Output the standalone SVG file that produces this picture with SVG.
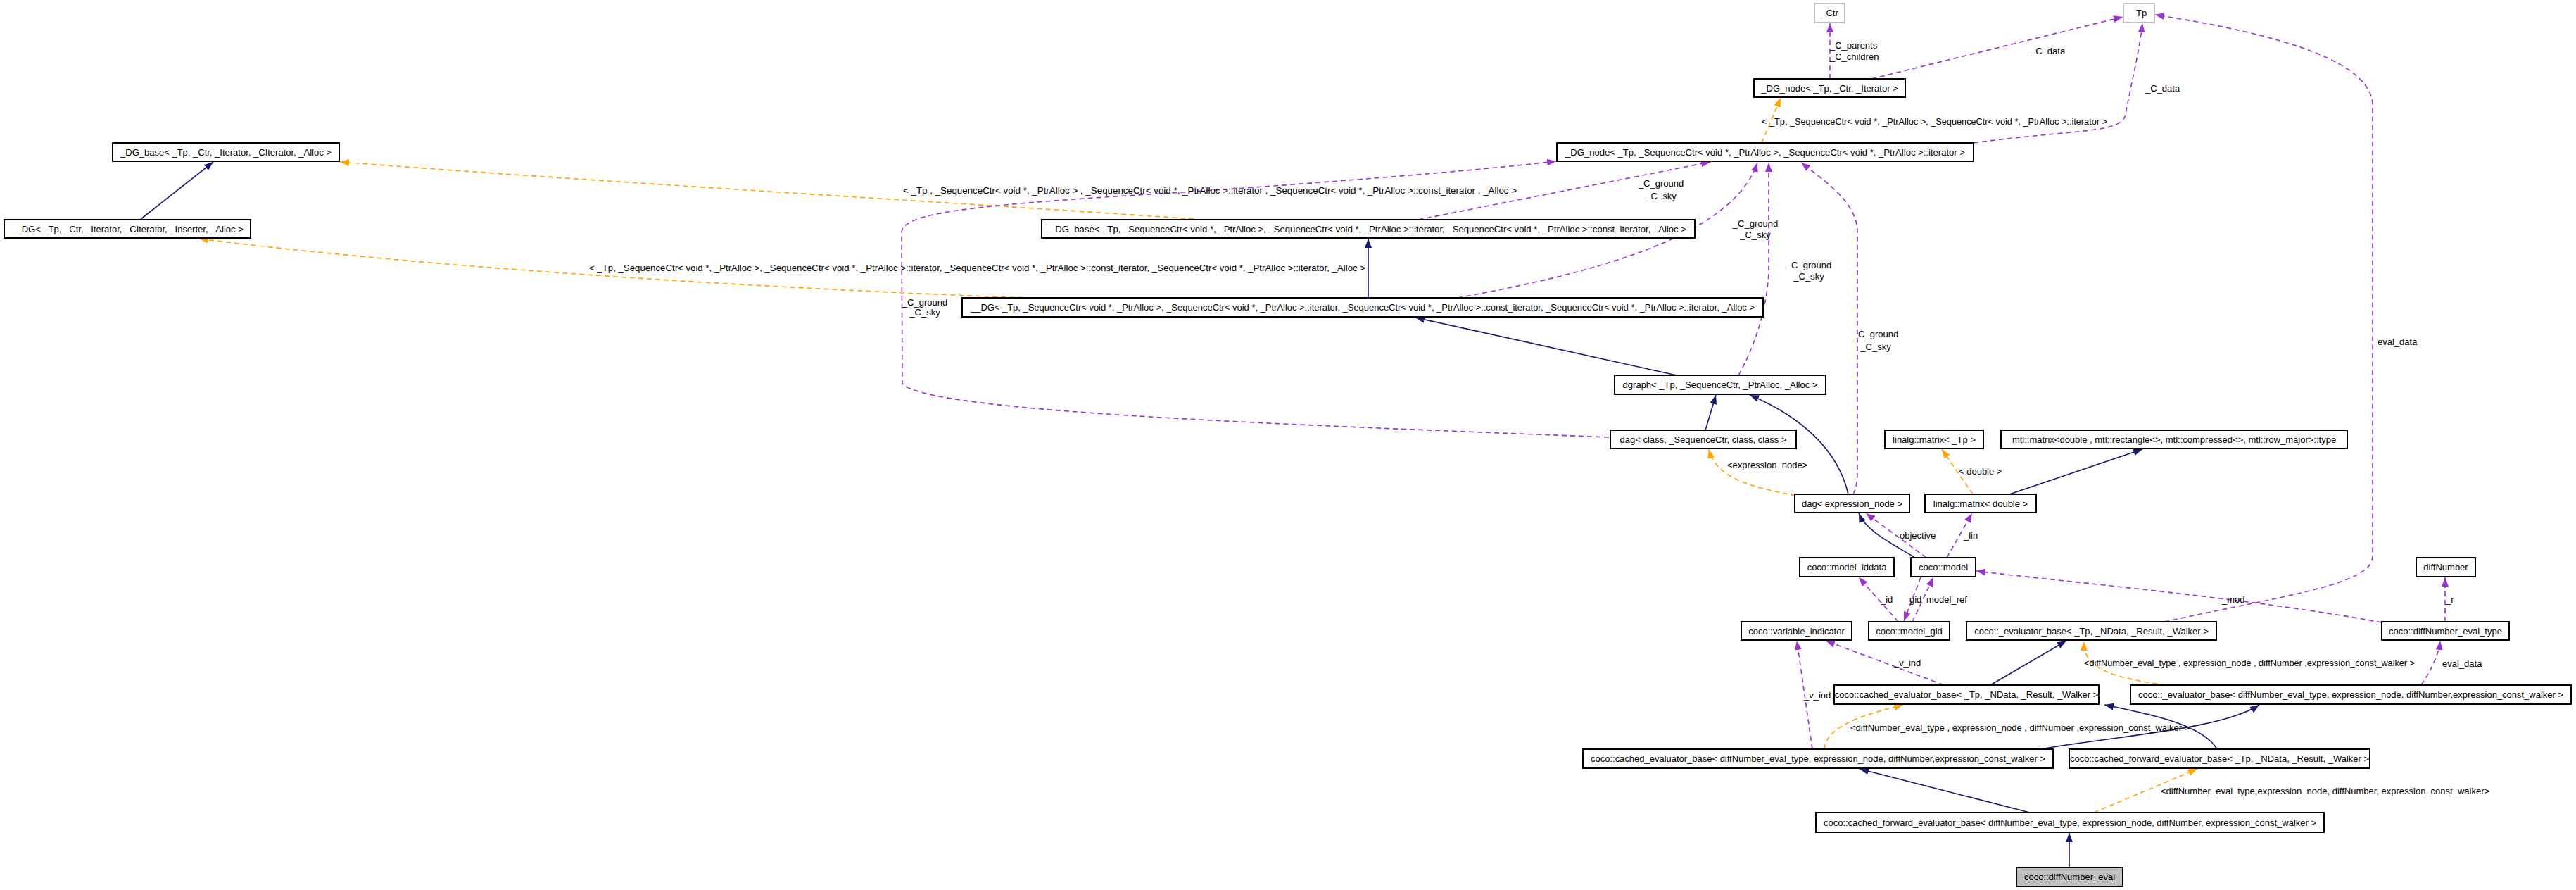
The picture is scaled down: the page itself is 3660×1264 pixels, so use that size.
<svg xmlns="http://www.w3.org/2000/svg" width="3660" height="1264" viewBox="0 0 3660 1264">
<style>
.t{font-family:"Liberation Sans",Arial,Helvetica,sans-serif;font-size:13px;fill:#000}
.c{text-anchor:middle}
.box{fill:#fff;stroke:#000;stroke-width:2}
.gbox{fill:#fff;stroke:#bfbfbf;stroke-width:2}
.sel{fill:#bfbfbf;stroke:#000;stroke-width:2}
.inh{fill:none;stroke:#191970;stroke-width:1.6;marker-end:url(#an)}
.use{fill:none;stroke:#9a32cd;stroke-width:1.6;stroke-dasharray:7,5;marker-end:url(#ap)}
.tpl{fill:none;stroke:#ffa500;stroke-width:1.6;stroke-dasharray:7,5;marker-end:url(#ao)}
</style>
<defs>
<marker id="an" markerUnits="userSpaceOnUse" markerWidth="14" markerHeight="10" refX="13" refY="5" orient="auto"><path d="M0,0 L13,5 L0,10 z" fill="#191970"/></marker>
<marker id="ap" markerUnits="userSpaceOnUse" markerWidth="14" markerHeight="10" refX="13" refY="5" orient="auto"><path d="M0,0 L13,5 L0,10 z" fill="#9a32cd"/></marker>
<marker id="ao" markerUnits="userSpaceOnUse" markerWidth="14" markerHeight="10" refX="13" refY="5" orient="auto"><path d="M0,0 L13,5 L0,10 z" fill="#ffa500"/></marker>
</defs>
<rect width="3660" height="1264" fill="#fff"/>
<g id="connectors">
<path class="inh" d="M199,312 L303,230"/>
<path class="inh" d="M1944,423 L1944,339"/>
<path class="inh" d="M2382,533 L2011,451"/>
<path class="inh" d="M2423,611 L2438,561"/>
<path class="inh" d="M2626,702 C2612,640 2560,592 2486,561"/>
<path class="inh" d="M2855,702 L3044,638"/>
<path class="inh" d="M2721,792 C2688,772 2652,755 2641,729"/>
<path class="inh" d="M2828,973 L2936,910"/>
<path class="inh" d="M2898,1064 C3010,1045 3160,1035 3210,1001"/>
<path class="inh" d="M3150,1064 C3130,1030 3060,1015 2990,1001"/>
<path class="inh" d="M2884,1154 L2642,1092"/>
<path class="inh" d="M2940,1232 L2940,1183"/>
<path class="tpl" d="M2503,203 L2530,139"/>
<path class="tpl" d="M1708,312 C1400,290 900,262 483,230"/>
<path class="tpl" d="M1465,423 C1300,418 700,392 283,339"/>
<path class="tpl" d="M2552,704 C2490,692 2438,680 2428,638"/>
<path class="tpl" d="M2803,702 L2759,638"/>
<path class="tpl" d="M3077,973 C3000,962 2960,950 2961,911"/>
<path class="tpl" d="M2592,1064 C2595,1030 2650,1015 2704,1001"/>
<path class="tpl" d="M2975,1154 L3122,1092"/>
<path class="use" d="M2600,112 L2600,33"/>
<path class="use" d="M2659,112 L3016,24"/>
<path class="use" d="M2804,203 C2950,183 3016,190 3020,162 C3030,110 3040,70 3044,33"/>
<path class="use" d="M2286,621 C1800,602 1320,585 1282,545 L1281,330 C1282,300 1400,290 1696,272 C1900,258 2100,242 2211,229"/>
<path class="use" d="M2015,312 L2430,230"/>
<path class="use" d="M2071,423 C2250,390 2460,340 2497,231"/>
<path class="use" d="M2633,702 C2639,690 2639,680 2639,660 L2639,330 C2639,290 2600,262 2559,231"/>
<path class="use" d="M2470,533 C2500,480 2513,420 2513,380 L2513,231"/>
<path class="use" d="M2737,792 L2651,729"/>
<path class="use" d="M2766,792 L2802,729"/>
<path class="use" d="M2697,883 L2641,820"/>
<path class="use" d="M2729,820 L2705,882"/>
<path class="use" d="M2717,883 L2747,820"/>
<path class="use" d="M3384,884 C3200,850 2950,828 2808,811"/>
<path class="use" d="M3075,883 C3250,845 3371,830 3371,790 L3371,150 C3371,90 3250,50 3062,21"/>
<path class="use" d="M3474,883 L3474,820"/>
<path class="use" d="M2762,973 L2594,910"/>
<path class="use" d="M2575,1064 L2553,910"/>
<path class="use" d="M3440,973 C3455,950 3465,930 3467,910"/>
<text class="t" x="2600" y="68.5">_C_parents</text>
<text class="t" x="2600" y="84.5">_C_children</text>
<text class="t" x="2885" y="76.5">_C_data</text>
<text class="t" x="3048" y="129.5">_C_data</text>
<text class="t" x="2503" y="176.5" textLength="491" lengthAdjust="spacingAndGlyphs">&lt; _Tp, _SequenceCtr&lt; void *, _PtrAlloc &gt;, _SequenceCtr&lt; void *, _PtrAlloc &gt;::iterator &gt;</text>
<text class="t" x="1283" y="274.5" textLength="872" lengthAdjust="spacingAndGlyphs">&lt; _Tp , _SequenceCtr&lt; void *, _PtrAlloc &gt; , _SequenceCtr&lt; void *, _PtrAlloc &gt;::iterator , _SequenceCtr&lt; void *, _PtrAlloc &gt;::const_iterator , _Alloc &gt;</text>
<text class="t c" x="2360" y="265">_C_ground</text>
<text class="t c" x="2360" y="282.5">_C_sky</text>
<text class="t c" x="2494" y="321.5">_C_ground</text>
<text class="t c" x="2494" y="337.5">_C_sky</text>
<text class="t" x="837" y="385" textLength="1103" lengthAdjust="spacingAndGlyphs">&lt; _Tp, _SequenceCtr&lt; void *, _PtrAlloc &gt;, _SequenceCtr&lt; void *, _PtrAlloc &gt;::iterator, _SequenceCtr&lt; void *, _PtrAlloc &gt;::const_iterator, _SequenceCtr&lt; void *, _PtrAlloc &gt;::iterator, _Alloc &gt;</text>
<text class="t c" x="1314" y="433.5">_C_ground</text>
<text class="t c" x="1314" y="447.5">_C_sky</text>
<text class="t c" x="2570" y="380.5">_C_ground</text>
<text class="t c" x="2570" y="396.5">_C_sky</text>
<text class="t c" x="2665" y="478.5">_C_ground</text>
<text class="t c" x="2665" y="496.5">_C_sky</text>
<text class="t" x="3378" y="490">eval_data</text>
<text class="t" x="2454" y="664.5">&lt;expression_node&gt;</text>
<text class="t" x="2783" y="673.5">&lt; double &gt;</text>
<text class="t" x="2699" y="764.5">objective</text>
<text class="t" x="2790" y="764.5">_lin</text>
<text class="t" x="2672" y="855.5">_id</text>
<text class="t" x="2713" y="855.5">gid</text>
<text class="t" x="2737" y="855.5">model_ref</text>
<text class="t" x="3157" y="855.5">_mod</text>
<text class="t" x="3475" y="855.5">_r</text>
<text class="t" x="2961" y="945.5" textLength="470" lengthAdjust="spacingAndGlyphs">&lt;diffNumber_eval_type , expression_node , diffNumber ,expression_const_walker &gt;</text>
<text class="t" x="3470" y="947">eval_data</text>
<text class="t" x="2691" y="945.5">_v_ind</text>
<text class="t" x="2563" y="991.5">_v_ind</text>
<text class="t" x="2629" y="1037.5">&lt;diffNumber_eval_type , expression_node , diffNumber ,expression_const_walker &gt;</text>
<text class="t" x="3070" y="1127.5">&lt;diffNumber_eval_type,expression_node, diffNumber, expression_const_walker&gt;</text>
</g>
<g id="n_ctr"><rect class="gbox" x="2578" y="5" width="43" height="27"/><text class="t c" x="2599.5" y="23">_Ctr</text></g>
<g id="n_tp"><rect class="gbox" x="3017" y="5" width="44" height="27"/><text class="t c" x="3039" y="23">_Tp</text></g>
<g id="n_dgnode_t"><rect class="box" x="2492" y="112" width="215" height="26"/><text class="t c" x="2599.5" y="129.5">_DG_node&lt; _Tp, _Ctr, _Iterator &gt;</text></g>
<g id="n_dgnode_l"><rect class="box" x="2212" y="203" width="592" height="26"/><text class="t c" x="2508" y="220.5" textLength="568" lengthAdjust="spacingAndGlyphs">_DG_node&lt; _Tp, _SequenceCtr&lt; void *, _PtrAlloc &gt;, _SequenceCtr&lt; void *, _PtrAlloc &gt;::iterator &gt;</text></g>
<g id="n_dgbase_t"><rect class="box" x="160" y="203" width="322" height="26"/><text class="t c" x="321" y="220.5">_DG_base&lt; _Tp, _Ctr, _Iterator, _CIterator, _Alloc &gt;</text></g>
<g id="n_dg_t"><rect class="box" x="6" y="312" width="350" height="26"/><text class="t c" x="181" y="329.5">__DG&lt; _Tp, _Ctr, _Iterator, _CIterator, _Inserter, _Alloc &gt;</text></g>
<g id="n_dgbase_l"><rect class="box" x="1480" y="312" width="928" height="26"/><text class="t c" x="1944" y="329.5" textLength="904" lengthAdjust="spacingAndGlyphs">_DG_base&lt; _Tp, _SequenceCtr&lt; void *, _PtrAlloc &gt;, _SequenceCtr&lt; void *, _PtrAlloc &gt;::iterator, _SequenceCtr&lt; void *, _PtrAlloc &gt;::const_iterator, _Alloc &gt;</text></g>
<g id="n_dg_l"><rect class="box" x="1367" y="423" width="1138" height="27"/><text class="t c" x="1936" y="441" textLength="1114" lengthAdjust="spacingAndGlyphs">__DG&lt; _Tp, _SequenceCtr&lt; void *, _PtrAlloc &gt;, _SequenceCtr&lt; void *, _PtrAlloc &gt;::iterator, _SequenceCtr&lt; void *, _PtrAlloc &gt;::const_iterator, _SequenceCtr&lt; void *, _PtrAlloc &gt;::iterator, _Alloc &gt;</text></g>
<g id="n_dgraph"><rect class="box" x="2294" y="533" width="300" height="27"/><text class="t c" x="2444" y="551">dgraph&lt; _Tp, _SequenceCtr, _PtrAlloc, _Alloc &gt;</text></g>
<g id="n_dagclass"><rect class="box" x="2288" y="611" width="264" height="26"/><text class="t c" x="2420" y="628.5">dag&lt; class, _SequenceCtr, class, class &gt;</text></g>
<g id="n_lintp"><rect class="box" x="2678" y="611" width="140" height="26"/><text class="t c" x="2748" y="628.5">linalg::matrix&lt; _Tp &gt;</text></g>
<g id="n_mtl"><rect class="box" x="2843" y="611" width="492" height="26"/><text class="t c" x="3089" y="628.5">mtl::matrix&lt;double , mtl::rectangle&lt;&gt;, mtl::compressed&lt;&gt;, mtl::row_major&gt;::type</text></g>
<g id="n_dagexpr"><rect class="box" x="2550" y="702" width="163" height="26"/><text class="t c" x="2631.5" y="719.5">dag&lt; expression_node &gt;</text></g>
<g id="n_lindouble"><rect class="box" x="2735" y="702" width="158" height="26"/><text class="t c" x="2814" y="719.5">linalg::matrix&lt; double &gt;</text></g>
<g id="n_iddata"><rect class="box" x="2557" y="792" width="134" height="27"/><text class="t c" x="2624" y="810">coco::model_iddata</text></g>
<g id="n_model"><rect class="box" x="2715" y="792" width="92" height="27"/><text class="t c" x="2761" y="810">coco::model</text></g>
<g id="n_diffnumber"><rect class="box" x="3433" y="792" width="84" height="27"/><text class="t c" x="3475" y="810">diffNumber</text></g>
<g id="n_varind"><rect class="box" x="2474" y="883" width="157" height="26"/><text class="t c" x="2552.5" y="900.5">coco::variable_indicator</text></g>
<g id="n_gid"><rect class="box" x="2655" y="883" width="115" height="26"/><text class="t c" x="2712.5" y="900.5">coco::model_gid</text></g>
<g id="n_evaltp"><rect class="box" x="2794" y="883" width="355" height="26"/><text class="t c" x="2971.5" y="900.5">coco::_evaluator_base&lt; _Tp, _NData, _Result, _Walker &gt;</text></g>
<g id="n_dnet"><rect class="box" x="3384" y="883" width="181" height="26"/><text class="t c" x="3474.5" y="900.5">coco::diffNumber_eval_type</text></g>
<g id="n_cachedtp"><rect class="box" x="2606" y="973" width="376" height="27"/><text class="t c" x="2794" y="991">coco::cached_evaluator_base&lt; _Tp, _NData, _Result, _Walker &gt;</text></g>
<g id="n_evaldn"><rect class="box" x="3027" y="973" width="626" height="27"/><text class="t c" x="3340" y="991" textLength="604" lengthAdjust="spacingAndGlyphs">coco::_evaluator_base&lt; diffNumber_eval_type, expression_node, diffNumber,expression_const_walker &gt;</text></g>
<g id="n_cacheddn"><rect class="box" x="2249" y="1064" width="668" height="27"/><text class="t c" x="2583" y="1082" textLength="646" lengthAdjust="spacingAndGlyphs">coco::cached_evaluator_base&lt; diffNumber_eval_type, expression_node, diffNumber,expression_const_walker &gt;</text></g>
<g id="n_cftp"><rect class="box" x="2940" y="1064" width="427" height="27"/><text class="t c" x="3153.5" y="1082">coco::cached_forward_evaluator_base&lt; _Tp, _NData, _Result, _Walker &gt;</text></g>
<g id="n_cfdn"><rect class="box" x="2580" y="1154" width="722" height="28"/><text class="t c" x="2941" y="1172.5" textLength="700" lengthAdjust="spacingAndGlyphs">coco::cached_forward_evaluator_base&lt; diffNumber_eval_type, expression_node, diffNumber, expression_const_walker &gt;</text></g>
<g id="n_eval"><rect class="sel" x="2865" y="1232" width="151" height="27"/><text class="t c" x="2940.5" y="1250">coco::diffNumber_eval</text></g>
</svg>
